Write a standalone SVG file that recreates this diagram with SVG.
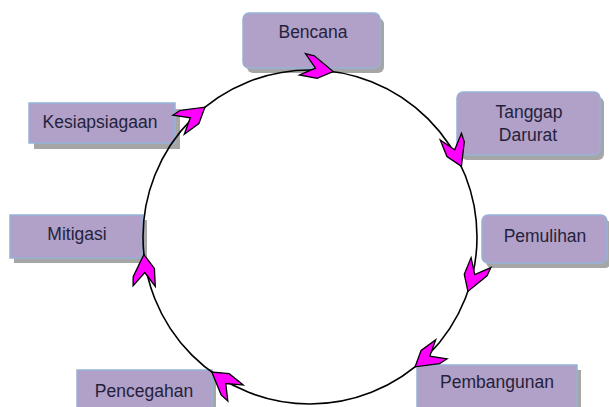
<svg xmlns="http://www.w3.org/2000/svg" xmlns:xlink="http://www.w3.org/1999/xlink" width="609" height="407" viewBox="0 0 609 407">
<style>
.box{fill:#B1A0C7;stroke:#95B3D7;stroke-width:1.5}
.shd{fill:#a6a6a6}
.lbl{font-family:"Liberation Sans",Arial,sans-serif;font-size:17.5px;fill:#241f3c;text-anchor:middle}
.ring{fill:none;stroke:#000;stroke-width:1.6}
.chev{fill:#FF00FF;stroke:#000;stroke-width:1.3;stroke-linejoin:miter}
</style>
<defs>
<polygon id="chev" class="chev" points="-30,-14 -21,-13 0,0 -15,9 -33,8 -18,-1"/>
</defs>
<rect width="609" height="407" fill="#fff"/>
<g id="bencana">
<rect class="shd" x="247" y="18" width="137" height="55" rx="6"/>
<rect class="box" x="243" y="13" width="137" height="55" rx="6"/>
<text class="lbl" x="313" y="38">Bencana</text>
</g>
<g id="tanggap-darurat">
<rect class="shd" x="461" y="97" width="143" height="63" rx="6"/>
<rect class="box" x="457" y="92" width="143" height="63" rx="6"/>
<text class="lbl" x="529" y="118">Tanggap</text>
<text class="lbl" x="528" y="141">Darurat</text>
</g>
<g id="pemulihan">
<rect class="shd" x="486" y="220" width="125" height="48" rx="6"/>
<rect class="box" x="482" y="215" width="125" height="48" rx="6"/>
<text class="lbl" x="545" y="242">Pemulihan</text>
</g>
<g id="pembangunan">
<rect class="shd" x="421" y="370" width="160" height="45"/>
<rect class="box" x="417" y="365" width="160" height="45"/>
<text class="lbl" x="497" y="388">Pembangunan</text>
</g>
<g id="pencegahan">
<rect class="shd" x="81" y="375" width="135" height="40"/>
<rect class="box" x="77" y="370" width="135" height="40"/>
<text class="lbl" x="144" y="397">Pencegahan</text>
</g>
<g id="mitigasi">
<rect class="shd" x="14" y="220" width="133" height="43"/>
<rect class="box" x="10" y="215" width="133" height="43"/>
<text class="lbl" x="77" y="240">Mitigasi</text>
</g>
<g id="kesiapsiagaan">
<rect class="shd" x="34" y="109" width="146" height="40"/>
<rect class="box" x="29" y="103" width="146" height="40"/>
<text class="lbl" x="100" y="128">Kesiapsiagaan</text>
</g>
<g id="connectors">
<circle class="ring" cx="310" cy="237" r="167"/>
<use xlink:href="#chev" href="#chev" transform="translate(333.2,71.6) rotate(8)"/>
<use xlink:href="#chev" href="#chev" transform="translate(461.4,166.4) rotate(65)"/>
<use xlink:href="#chev" href="#chev" transform="translate(467.9,291.4) rotate(109)"/>
<use xlink:href="#chev" href="#chev" transform="translate(415.1,366.8) rotate(141)"/>
<use xlink:href="#chev" href="#chev" transform="translate(211.8,372.1) rotate(216)"/>
<use xlink:href="#chev" href="#chev" transform="translate(143.9,254.5) rotate(264)"/>
<use xlink:href="#chev" href="#chev" transform="translate(204.9,107.2) rotate(321)"/>
</g>
</svg>
